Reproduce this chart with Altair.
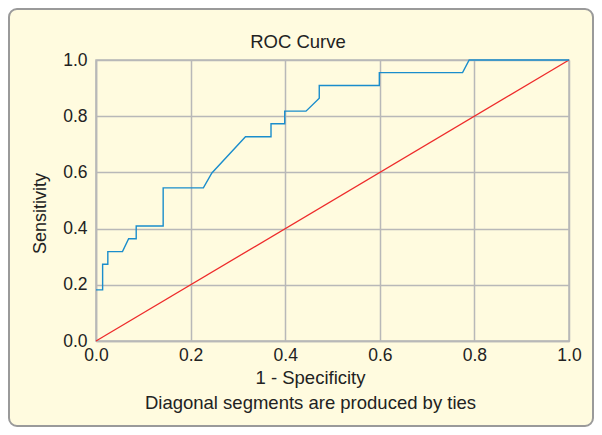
import altair as alt
import pandas as pd

# ROC curve points (1 - specificity, sensitivity)
fpr = [0.0, 0.014, 0.014, 0.025, 0.025, 0.056, 0.069, 0.085, 0.085, 0.142,
       0.142, 0.227, 0.245, 0.316, 0.370, 0.370, 0.399, 0.399, 0.444, 0.472,
       0.472, 0.599, 0.599, 0.775, 0.789, 1.0]
sens = [0.182, 0.182, 0.273, 0.273, 0.318, 0.318, 0.364, 0.364, 0.409, 0.409,
        0.545, 0.545, 0.598, 0.727, 0.727, 0.773, 0.773, 0.818, 0.818, 0.864,
        0.909, 0.909, 0.955, 0.955, 1.0, 1.0]
ref_x = [0.0, 1.0]
ref_y = [0.0, 1.0]
tick_vals = [0.0, 0.2, 0.4, 0.6, 0.8, 1.0]
chart_title = "ROC Curve"

FONT = "Liberation Sans"
TXT = "#222222"
GRID = "#b8b8b8"
BG = "#fffbdf"

roc = pd.DataFrame({"fpr": fpr, "sens": sens, "i": list(range(len(fpr)))})
diag = pd.DataFrame({"fpr": ref_x, "sens": ref_y, "i": [0, 1]})
one = pd.DataFrame({"t": [chart_title]})

xaxis = alt.Axis(values=tick_vals, format=".1f", grid=True, gridColor=GRID, gridWidth=1.5,
                 domainColor=GRID, domainWidth=1.5, ticks=False, tickSize=0,
                 labelPadding=5, labelFont=FONT, labelFontSize=17.5, labelColor=TXT,
                 labelFlush=False, labelOverlap=False,
                 title=["1 - Specificity", "Diagonal segments are produced by ties"],
                 titleFont=FONT, titleFontSize=18.5, titleFontWeight="normal", titleColor=TXT,
                 titleX=214, titleY=42, titleBaseline="alphabetic", titleLineHeight=25,
                 titleAlign="center")
yaxis = alt.Axis(values=tick_vals, format=".1f", grid=True, gridColor=GRID, gridWidth=1.5,
                 domainColor=GRID, domainWidth=1.5, ticks=False, tickSize=0,
                 labelPadding=9, labelFont=FONT, labelFontSize=17.5, labelColor=TXT,
                 labelFlush=False, labelOverlap=False,
                 title="Sensitivity", titleFont=FONT, titleFontSize=18, titleFontWeight="normal",
                 titleColor=TXT, titleX=-51, titleY=153, titleBaseline="alphabetic",
                 titleAlign="center", titleAngle=270)

xs = alt.Scale(domain=[0, 1], nice=False)
ys = alt.Scale(domain=[0, 1], nice=False)

outer = alt.Chart(one).mark_rect(filled=False, stroke="white", strokeWidth=10, cornerRadius=13).encode(
    x=alt.value(-92), x2=alt.value(502), y=alt.value(-56), y2=alt.value(371))
border = alt.Chart(one).mark_rect(filled=False, stroke="#9a9a9a", strokeWidth=2, cornerRadius=8).encode(
    x=alt.value(-87), x2=alt.value(497), y=alt.value(-51), y2=alt.value(366))
title = alt.Chart(one).mark_text(font=FONT, fontSize=18.5, color=TXT, align="center",
                                 baseline="alphabetic").encode(
    text="t:N", x=alt.value(202), y=alt.value(-12))

red = alt.Chart(diag).mark_line(color="#ee2b2b", strokeWidth=1.3).encode(
    x=alt.X("fpr:Q", scale=xs, axis=xaxis),
    y=alt.Y("sens:Q", scale=ys, axis=yaxis),
    order="i:Q")
blue = alt.Chart(roc).mark_line(color="#1a8dcc", strokeWidth=1.4).encode(
    x=alt.X("fpr:Q", scale=xs),
    y=alt.Y("sens:Q", scale=ys),
    order="i:Q")

chart = alt.layer(red, blue, outer, border, title).properties(
    width=473, height=281,
    autosize=alt.AutoSizeParams(type="none"),
    padding={"left": 88, "top": 52, "right": 25, "bottom": 86},
    background=BG,
).configure_view(stroke=GRID, strokeWidth=1.5, fill=BG)

chart.save("out.html", embed_options={"renderer": "svg", "actions": False})
